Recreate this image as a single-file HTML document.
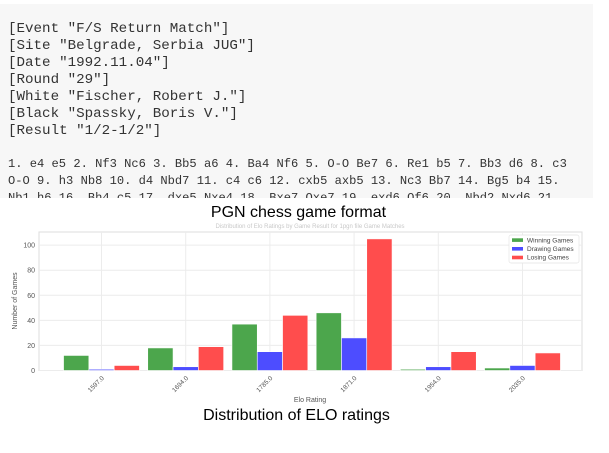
<!DOCTYPE html>
<html><head><meta charset="utf-8"><style>
html,body{margin:0;padding:0;width:609px;height:453px;background:#fff;overflow:hidden}
#code{position:absolute;left:0;top:4px;width:593px;height:194px;background:#f7f7f7;overflow:hidden;font-family:"Liberation Mono",monospace;font-size:14.2px;color:#333}
#code div{position:absolute;left:8px;white-space:pre;line-height:17px}
.cap{position:absolute;font-family:"Liberation Sans",sans-serif;font-size:16px;color:#000;text-align:center;width:609px;left:0}
svg text{font-family:"Liberation Sans",sans-serif}
</style></head><body>
<div id="code">
<div style="top:17px">[Event "F/S Return Match"]
[Site "Belgrade, Serbia JUG"]
[Date "1992.11.04"]
[Round "29"]
[White "Fischer, Robert J."]
[Black "Spassky, Boris V."]
[Result "1/2-1/2"]</div>
<div style="top:152px;font-size:12.1px">1. e4 e5 2. Nf3 Nc6 3. Bb5 a6 4. Ba4 Nf6 5. O-O Be7 6. Re1 b5 7. Bb3 d6 8. c3
O-O 9. h3 Nb8 10. d4 Nbd7 11. c4 c6 12. cxb5 axb5 13. Nc3 Bb7 14. Bg5 b4 15.
Nb1 h6 16. Bh4 c5 17. dxe5 Nxe4 18. Bxe7 Qxe7 19. exd6 Qf6 20. Nbd2 Nxd6 21.</div>
</div>
<div class="cap" style="top:204px;left:-6px">PGN chess game format</div>
<svg id="chart" width="609" height="453" style="position:absolute;left:0;top:0"></svg>
<div class="cap" style="top:407px;left:-8px">Distribution of ELO ratings</div>
<script>
const categories=["1597.0","1694.0","1785.0","1871.0","1954.0","2035.0"];
const winning=[12,18,37,46,1,2];
const drawing=[1,3,15,26,3,4];
const losing=[4,19,44,105,15,14];
const yTicks=[0,20,40,60,80,100];
const seriesNames=["Winning Games","Drawing Games","Losing Games"];
const NS="http://www.w3.org/2000/svg";
const svg=document.getElementById('chart');
const L=39,R=582,T=232,B=370.5;
const yScale=v=>B-v*1.2535;
const groupW=84.2,barW=25.3;
const xCenter=i=>101.5+i*groupW;
function mk(t,a){const e=document.createElementNS(NS,t);for(const k in a)e.setAttribute(k,a[k]);svg.appendChild(e);return e;}
let frame=mk('rect',{x:L,y:T,width:R-L,height:B-T,fill:'#fff',stroke:'#ddd','stroke-width':1});


yTicks.forEach(v=>{
  const g=mk('line',{x1:L,x2:R,y1:yScale(v),y2:yScale(v),stroke:'#ececec','stroke-width':1});
  
  
  const t=mk('text',{x:L-4,y:yScale(v)+2.5,'font-size':7,fill:'#555','text-anchor':'end'});
  t.textContent=v;
  
  
});
categories.forEach((c,i)=>{
  const g=mk('line',{x1:xCenter(i),x2:xCenter(i),y1:T,y2:B,stroke:'#ececec','stroke-width':1});
  
  
  const t=mk('text',{x:xCenter(i)+3,y:B+8,'font-size':6.5,fill:'#555','text-anchor':'end',transform:`rotate(-45 ${xCenter(i)+3} ${B+8})`});
  t.textContent=c;
  
  
});
const series=[[winning,'#4ca64c',-1],[drawing,'#4d4dff',0],[losing,'#ff4d4d',1]];
series.forEach(([vals,col,off],si)=>{
  vals.forEach((v,i)=>{
    const x=xCenter(i)+off*barW-barW/2;
    const r=mk('rect',{x:x,y:yScale(v),width:barW,height:B-yScale(v),fill:col,stroke:'#fff','stroke-width':0.6});
    
    
  });
});
let tt=mk('text',{x:310,y:228,'font-size':6,fill:'#c8c8c8','text-anchor':'middle'});
tt.textContent='Distribution of Elo Ratings by Game Result for 1pgn file Game Matches';


let xl=mk('text',{x:310,y:402,'font-size':7,fill:'#555','text-anchor':'middle'});
xl.textContent='Elo Rating';


let yl=mk('text',{x:17,y:301,'font-size':7,fill:'#555','text-anchor':'middle',transform:'rotate(-90 17 301)'});
yl.textContent='Number of Games';


let lb=mk('rect',{x:509,y:235,width:70,height:28,fill:'#fff',stroke:'#e4e4e4','stroke-width':0.7,rx:2});


series.forEach(([v,col],si)=>{
  const y=240+si*8.7;
  const s=mk('rect',{x:512,y:y-1.7,width:11,height:3.6,fill:col});
  
  
  const t=mk('text',{x:527,y:y+2.3,'font-size':6.5,fill:'#444'});
  t.textContent=seriesNames[si];
  
  
});
</script>
</body></html>
